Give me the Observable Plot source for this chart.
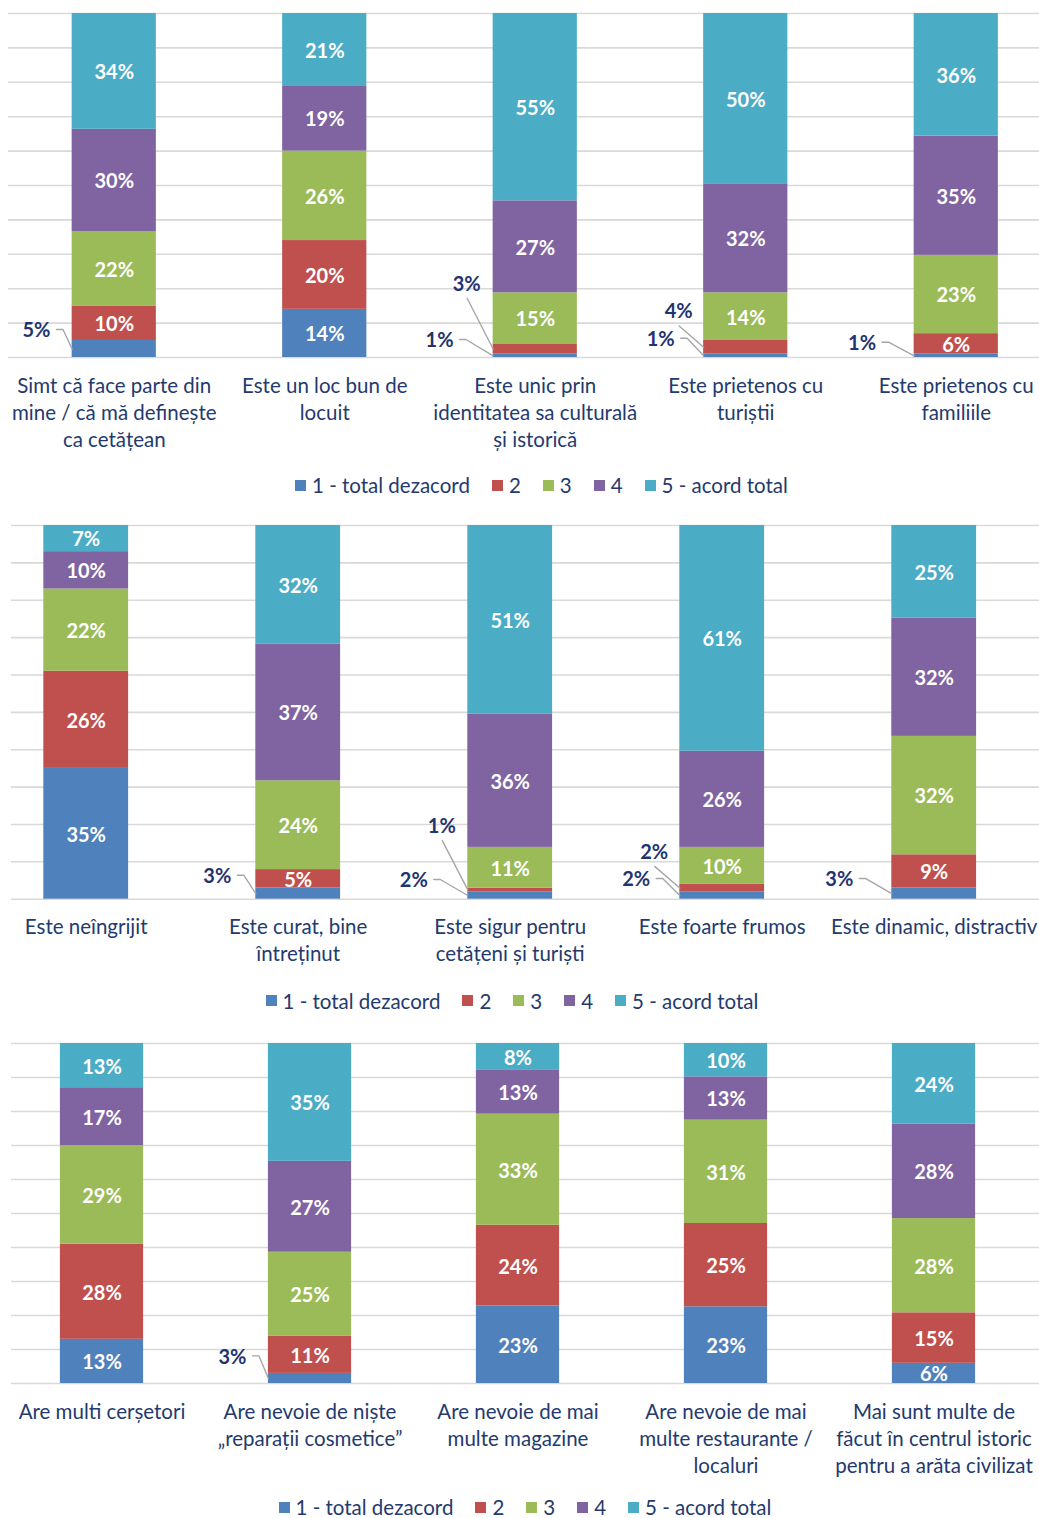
<!DOCTYPE html>
<html>
<head>
<meta charset="utf-8">
<script src="https://cdn.jsdelivr.net/npm/d3@7"></script>
<script src="https://cdn.jsdelivr.net/npm/@observablehq/plot@0.6"></script>
<style>
  html, body { margin: 0; padding: 0; background: #fff; }
  body { width: 1039px; height: 1518px; position: relative; overflow: hidden; font-family: Lato, "Noto Sans", sans-serif; }
  .panel { position: absolute; left: 0; }
  .legendbox { position: absolute; height: 24px; display: flex; align-items: center; }
  div.lg-swatches { font-family: Lato, sans-serif !important; font-size: 20.5px !important; color: #243a6e !important; margin: 0 !important; min-height: 0 !important; }
  div.lg-swatches-wrap { display: flex; align-items: center; flex-wrap: nowrap !important; }
  span.lg-swatch { margin-right: 22px !important; display: inline-flex; align-items: center; }
  span.lg-swatch > svg { margin-right: 6px !important; }
</style>
</head>
<body>
<script>
// ---------- data ----------
const levels = ["1 - total dezacord", "2", "3", "4", "5 - acord total"];
const levelColors = ["#4F81BD", "#C0504D", "#9BBB59", "#8064A2", "#4BACC6"];
const gridTicks = [0, 0.1, 0.2, 0.3, 0.4, 0.5, 0.6, 0.7, 0.8, 0.9, 1];

const panel1Categories = [
  "Simt că face parte din\nmine / că mă definește\nca cetățean",
  "Este un loc bun de\nlocuit",
  "Este unic prin\nidentitatea sa culturală\nși istorică",
  "Este prietenos cu\nturiștii",
  "Este prietenos cu\nfamiliile"
];
const panel1Values = [
  [5, 10, 22, 30, 34],
  [14, 20, 26, 19, 21],
  [1, 3, 15, 27, 55],
  [1, 4, 14, 32, 50],
  [1, 6, 23, 35, 36]
];

const panel2Categories = [
  "Este neîngrijit",
  "Este curat, bine\nîntreținut",
  "Este sigur pentru\ncetățeni și turiști",
  "Este foarte frumos",
  "Este dinamic, distractiv"
];
const panel2Values = [
  [35, 26, 22, 10, 7],
  [3, 5, 24, 37, 32],
  [2, 1, 11, 36, 51],
  [2, 2, 10, 26, 61],
  [3, 9, 32, 32, 25]
];

const panel3Categories = [
  "Are multi cerșetori",
  "Are nevoie de niște\n„reparații cosmetice”",
  "Are nevoie de mai\nmulte magazine",
  "Are nevoie de mai\nmulte restaurante /\nlocaluri",
  "Mai sunt multe de\nfăcut în centrul istoric\npentru a arăta civilizat"
];
const panel3Values = [
  [13, 28, 29, 17, 13],
  [3, 11, 25, 27, 35],
  [23, 24, 33, 13, 8],
  [23, 25, 31, 13, 10],
  [6, 15, 28, 28, 24]
];

// ---------- layout (not data) ----------
// callouts: [category index, level index, label offset x (px from bar left), label offset y (px from segment middle), leader style]
const panel1Callouts = [
  [0, 0, -35.7, -19.5, "elbow"],
  [2, 0, -53.6, -16.3, "elbow"],
  [2, 1, -26.5, -66.2, "straight"],
  [3, 0, -43, -17.6, "elbow"],
  [3, 1, -25, -36.8, "straight"],
  [4, 0, -52.1, -13.6, "elbow"]
];
const panel2Callouts = [
  [1, 0, -38.5, -18.4, "elbow"],
  [2, 0, -54, -16, "elbow"],
  [2, 1, -26, -64.75, "straight"],
  [3, 0, -43.6, -17, "elbow"],
  [3, 1, -25.6, -37.2, "straight"],
  [4, 0, -52.5, -15.1, "elbow"]
];
const panel3Callouts = [
  [1, 0, -36, -22.6, "elbow"]
];

const layouts = [
  {gridTop: 13, gridBottom: 357, gridLeft: 8, x0: 8.5, step: 210.5, legendLeft: 295, legendY: 485},
  {gridTop: 525.3, gridBottom: 899, gridLeft: 11, x0: -20.3, step: 212, legendLeft: 265.5, legendY: 1000.5},
  {gridTop: 1042.7, gridBottom: 1382.7, gridLeft: 11, x0: -2.5, step: 208, legendLeft: 278.5, legendY: 1507}
];

const navy = "#243a6e";
const calloutColor = "#1f3470";
const barHalf = 0.2;

function drawPanel(cats, values, callouts, L) {
  const plotH = L.gridBottom - L.gridTop;
  const mt = 10, mb = 110;
  const rows = [];
  values.forEach((vals, ci) => {
    const total = d3.sum(vals);
    let cum = 0;
    vals.forEach((v, li) => {
      rows.push({ci, li, level: levels[li], value: v, y1: cum / total, y2: (cum + v) / total});
      cum += v;
    });
  });
  const keyset = new Set(callouts.map(c => c[0] + "-" + c[1]));
  const inside = rows.filter(r => !keyset.has(r.ci + "-" + r.li));
  const ux = px => px / L.step;
  const uy = px => -px / plotH;
  const cRows = callouts.map(([ci, li, tx, ty, kind], k) => {
    const r = rows.find(d => d.ci === ci && d.li === li);
    const bx = ci + 0.5 - barHalf;
    const my = (r.y1 + r.y2) / 2;
    return {id: k, text: r.value + "%", x: bx + ux(tx), y: my + uy(ty), bx, my, tx, ty, kind};
  });
  const leaders = cRows.flatMap(c => c.kind === "elbow"
    ? [
        {id: c.id, x: c.bx + ux(c.tx + 20), y: c.my + uy(c.ty)},
        {id: c.id, x: c.bx + ux(c.tx + 26.5), y: c.my + uy(c.ty)},
        {id: c.id, x: c.bx, y: c.my}
      ]
    : [
        {id: c.id, x: c.bx + ux(c.tx + 0.5), y: c.my + uy(c.ty + 15.5)},
        {id: c.id, x: c.bx, y: c.my}
      ]);

  const svg = Plot.plot({
    width: 1039,
    height: plotH + mt + mb,
    marginTop: mt,
    marginBottom: mb,
    marginLeft: L.gridLeft,
    marginRight: 0,
    style: {fontFamily: "Lato, sans-serif", background: "transparent", overflow: "visible"},
    x: {type: "linear", domain: [0, 5], range: [L.x0, L.x0 + 5 * L.step], axis: null},
    y: {domain: [0, 1], axis: null},
    color: {domain: levels, range: levelColors},
    marks: [
      Plot.ruleY(gridTicks, {stroke: "#d9d9d9", strokeWidth: 1.6}),
      Plot.rect(rows, {x1: d => d.ci + 0.5 - barHalf, x2: d => d.ci + 0.5 + barHalf, y1: "y1", y2: "y2", fill: "level"}),
      Plot.text(inside, {x: d => d.ci + 0.5, y: d => (d.y1 + d.y2) / 2, text: d => d.value + "%", fill: "white", fontWeight: "bold", fontSize: 20, dy: 1.5}),
      Plot.line(leaders, {x: "x", y: "y", z: "id", stroke: "#a6a6a6", strokeWidth: 1.4, curve: "linear"}),
      Plot.text(cRows, {x: "x", y: "y", text: "text", fill: calloutColor, fontWeight: "bold", fontSize: 20, dy: 1.5}),
      Plot.text(cats, {x: (d, i) => i + 0.5, frameAnchor: "bottom", lineAnchor: "top", dy: 16, fontSize: 20.5, lineHeight: 27 / 20.5, fill: navy, text: d => d})
    ]
  });
  const wrap = document.createElement("div");
  wrap.className = "panel";
  wrap.style.top = (L.gridTop - mt) + "px";
  wrap.appendChild(svg);
  document.body.appendChild(wrap);

  const lg = Plot.legend({
    color: {type: "ordinal", domain: levels, range: levelColors},
    className: "lg",
    swatchSize: 11
  });
  const lbox = document.createElement("div");
  lbox.className = "legendbox";
  lbox.style.left = L.legendLeft + "px";
  lbox.style.top = (L.legendY - 12) + "px";
  lbox.appendChild(lg);
  document.body.appendChild(lbox);
}

drawPanel(panel1Categories, panel1Values, panel1Callouts, layouts[0]);
drawPanel(panel2Categories, panel2Values, panel2Callouts, layouts[1]);
drawPanel(panel3Categories, panel3Values, panel3Callouts, layouts[2]);
</script>
</body>
</html>
